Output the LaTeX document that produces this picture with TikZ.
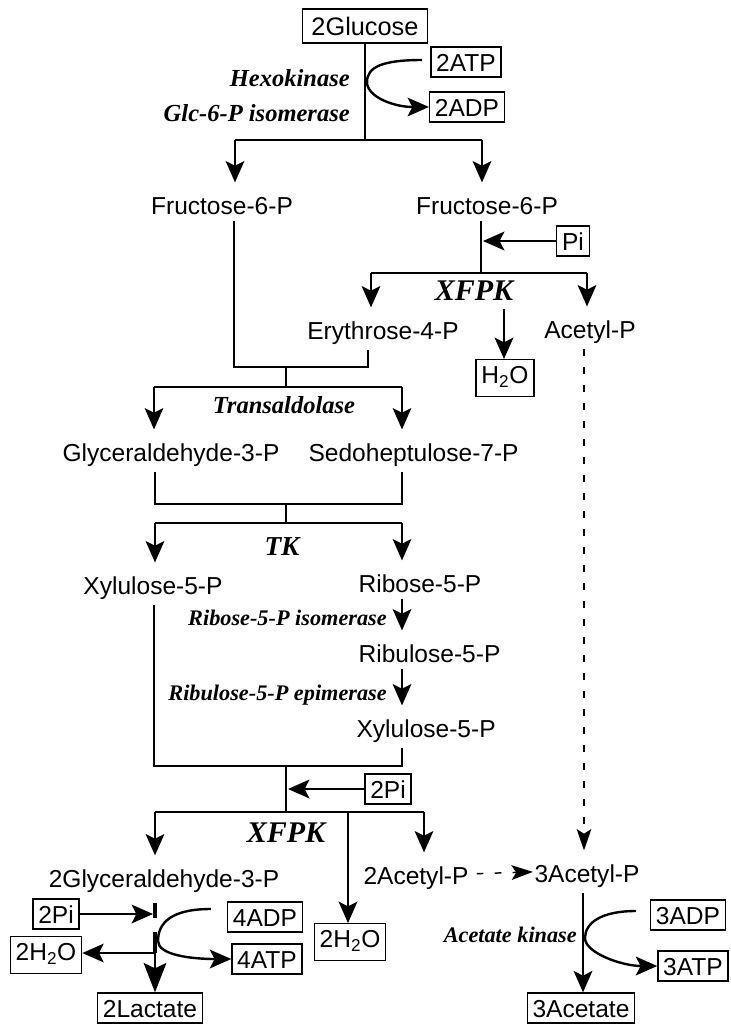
\documentclass[tikz,border=0pt]{standalone}
\usepackage{fontspec}
\setmainfont{Liberation Sans}
\newfontfamily\enzfont{Liberation Serif}
\usetikzlibrary{arrows.meta, positioning, calc}

\begin{document}
\begin{tikzpicture}[x=0.75pt, y=-0.75pt,
    met/.style={anchor=base, font=\fontsize{18.4}{22}\selectfont, text height=19pt, inner xsep=1pt, inner ysep=4.5pt},
    cof/.style={draw, line width=1pt, font=\fontsize{18.4}{22}\selectfont, text height=13.5pt, text depth=0pt, inner xsep=4pt, inner ysep=4.5pt},
    cofw/.style={cof, text depth=5pt},
    enz/.style={font=\enzfont\bfseries\itshape\fontsize{18.4}{22}\selectfont, inner sep=0pt},
    enzsm/.style={enz, font=\enzfont\bfseries\itshape\fontsize{16.7}{20}\selectfont},
    enzbig/.style={enz, font=\enzfont\bfseries\itshape\fontsize{22.5}{26}\selectfont},
    flow/.style={line width=1.8pt},
    flowarr/.style={flow, -{Stealth[length=16pt, width=14pt, inset=3.5pt]}},
    dashflow/.style={line width=1.1pt, dash pattern=on 5pt off 8.5pt, -{Stealth[length=16pt, width=11pt, inset=3.5pt]}},
    gapbar/.style={line width=3.2pt}]
\useasboundingbox (0,0) rectangle (731,1025);

\node[cof, inner xsep=6.5pt, inner ysep=6pt, font=\fontsize{19}{22}\selectfont] (glc) at (365,26) {2Glucose};
\node[cof] (atp1) at (466,62) {2ATP};
\node[cof] (adp1) at (467,107) {2ADP};
\node[enz, anchor=base east] (hk) at (350,86) {Hexokinase};
\node[enz, anchor=base east] (gpi) at (350,121) {Glc-6-P isomerase};
\node[met] (f6p1) at (222,214) {Fructose-6-P};
\node[met] (f6p2) at (487,214) {Fructose-6-P};
\node[cof] (pi1) at (573,241) {Pi};
\node[enzbig, anchor=base] (xfpk1) at (474,300) {XFPK};
\node[met] (e4p) at (383,339) {Erythrose-4-P};
\node[met] (acp1) at (590,338) {Acetyl-P};
\node[cofw] (h2o1) at (505,378) {H\textsubscript{2}O};
\node[enz, anchor=base] (tal) at (284,413) {Transaldolase};
\node[met] (g3p) at (171,461) {Glyceraldehyde-3-P};
\node[met, anchor=base west] (s7p) at (307,461) {Sedoheptulose-7-P};
\node[enz, font=\enzfont\bfseries\itshape\fontsize{20.5}{24}\selectfont, anchor=base] (tk) at (282,555) {TK};
\node[met] (xu5p1) at (153,594) {Xylulose-5-P};
\node[met, anchor=base west] (r5p) at (357,592) {Ribose-5-P};
\node[enzsm, anchor=base east] (rpi) at (387,625) {Ribose-5-P isomerase};
\node[met, anchor=base west] (ru5p) at (357,662) {Ribulose-5-P};
\node[enzsm, anchor=base east] (rpe) at (387,700) {Ribulose-5-P epimerase};
\node[met, anchor=base west] (xu5p2) at (355,737) {Xylulose-5-P};
\node[cof] (pi2) at (388,789) {2Pi};
\node[enzbig, anchor=base] (xfpk2) at (286,842) {XFPK};
\node[met] (g3p2) at (164,887) {2Glyceraldehyde-3-P};
\node[met] (acp2) at (416,884) {2Acetyl-P};
\node[met] (acp3) at (587,882) {3Acetyl-P};
\node[cof] (pi3) at (56,914) {2Pi};
\node[cofw] (h2o2) at (46,955) {2H\textsubscript{2}O};
\node[cofw] (h2o3) at (350,942) {2H\textsubscript{2}O};
\node[cof] (adp2) at (265,917) {4ADP};
\node[cof] (atp2) at (267,959) {4ATP};
\node[cof] (lac) at (150,1008) {2Lactate};
\node[cof] (adp3) at (688,915) {3ADP};
\node[cof] (atp3) at (693,966) {3ATP};
\node[enzsm, anchor=base east] (ack) at (577,942) {Acetate kinase};
\node[cof] (ace) at (581,1008) {3Acetate};

\coordinate (hkM) at (367,82);
\coordinate (br1) at (365,140);
\coordinate (br1L) at (235,140);
\coordinate (br1R) at (482,140);
\draw[flow] (glc) -- (br1);
\draw[flow] (br1L) -- (br1R);
\draw[flowarr] (br1L) -- (br1L |- f6p1.north);
\draw[flowarr] (br1R) -- (br1R |- f6p2.north);
\draw[flowarr] ([xshift=-6pt,yshift=1.5pt]atp1.west) .. controls +(-40,0) and +(0,-15) .. (hkM) .. controls +(0,15) and +(-35,0) .. (adp1.west);

\coordinate (br2) at (481,273);
\coordinate (br2L) at (371,273);
\coordinate (br2R) at (587,273);
\coordinate (br2W) at (504,309);
\draw[flow] (br2 |- f6p2.south) -- (br2);
\draw[flowarr] (pi1.west) -- ([xshift=1.5pt]pi1.west -| br2);
\draw[flow] (br2L) -- (br2R);
\draw[flowarr] (br2L) -- (br2L |- e4p.north);
\draw[flowarr] (br2R) -- (br2R |- acp1.north);
\draw[flowarr] (br2W) -- (br2W |- h2o1.north);

\coordinate (tL) at (234,367);
\coordinate (tM) at (286,367);
\coordinate (tR) at (368,367);
\coordinate (tdL) at (154,387);
\coordinate (tdR) at (402,387);
\draw[flow] (tL |- f6p1.south) -- (tL) -- (tR) -- (tR |- e4p.south);
\draw[flow] (tM) -- (tM |- tdL);
\draw[flow] (tdL) -- (tdR);
\draw[flowarr] (tdL) -- (tdL |- g3p.north);
\draw[flowarr] (tdR) -- (tdR |- s7p.north);

\coordinate (kL) at (155,504);
\coordinate (kM) at (286,504);
\coordinate (kR) at (402,504);
\coordinate (kdL) at (155,523);
\coordinate (kdR) at (402,523);
\draw[flow] (kL |- g3p.south) -- (kL) -- (kR) -- (kR |- s7p.south);
\draw[flow] (kM) -- (kM |- kdL);
\draw[flow] (kdL) -- (kdR);
\draw[flowarr] (kdL) -- (kdL |- xu5p1.north);
\draw[flowarr] (kdR) -- (kdR |- r5p.north);
\draw[flowarr] (kdR |- r5p.south) -- (kdR |- ru5p.north);
\draw[flowarr] (kdR |- ru5p.south) -- (kdR |- xu5p2.north);

\coordinate (xL) at (154,766);
\coordinate (xM) at (286,766);
\coordinate (xR) at (402,766);
\coordinate (xdL) at (155,812);
\coordinate (xdW) at (348,812);
\coordinate (xdR) at (424,812);
\draw[flow] (xL |- xu5p1.south) -- (xL) -- (xR) -- (xR |- xu5p2.south);
\draw[flow] (xM) -- (xM |- xdL);
\draw[flowarr] (pi2.west) -- ([xshift=1.5pt]pi2.west -| xM);
\draw[flow] (xdL) -- (xdR);
\draw[flowarr] (xdL) -- (xdL |- g3p2.north);
\draw[flowarr] (xdW) -- (xdW |- h2o3.north);
\draw[flowarr] (xdR) -- (xdR |- acp2.north);

\draw[dashflow] ([xshift=-4.5pt]acp1.south) -- ([xshift=-2.25pt]acp3.north);
\draw[dashflow, shorten <=5pt] (acp2.east) -- (acp3.west);

\coordinate (gT) at (155,903);
\coordinate (gA) at (155,918);
\coordinate (gB) at (155,932);
\coordinate (gC) at (155,953);
\coordinate (gM) at (158,941);
\draw[gapbar] (gT) -- (gA);
\draw[gapbar] (gB) -- (gC);
\draw[flowarr] (pi3.east) -- ([xshift=-1.5pt]pi3.east -| gT);
\draw[flowarr] ([xshift=-1pt]gC) -- (gC -| h2o2.east);
\draw[flow, -{Stealth[length=22pt, width=17pt, inset=4pt]}] (gC) -- (gC |- lac.north);
\draw[flowarr] ([xshift=-12pt,yshift=6pt]adp2.west) .. controls +(-40,0) and +(0,-18) .. (gM) .. controls +(0,14) and +(-40,0) .. (atp2.west);

\coordinate (aM) at (585,938);
\draw[flowarr] ([xshift=-3pt]acp3.south) -- ([xshift=-3pt]acp3.south |- ace.north);
\draw[flowarr] ([xshift=-10.5pt,yshift=3pt]adp3.west) .. controls +(-35,0) and +(0,-15) .. (aM) .. controls +(0,15) and +(-35,0) .. (atp3.west);
\end{tikzpicture}
\end{document}
